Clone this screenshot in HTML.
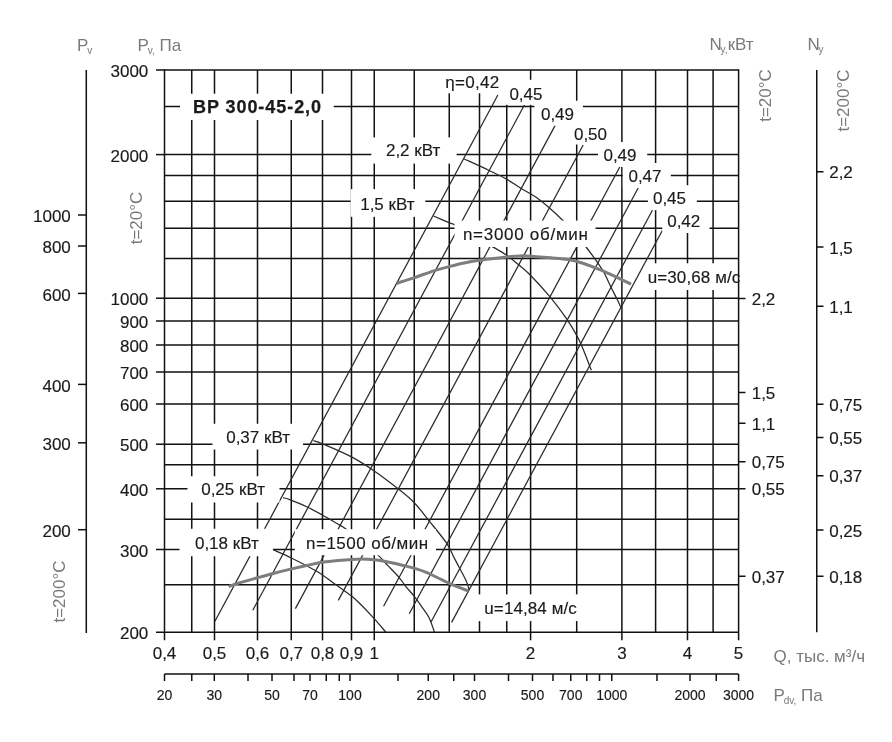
<!DOCTYPE html>
<html><head><meta charset="utf-8"><style>
html,body{margin:0;padding:0;background:#fff;}
svg{display:block;font-family:"Liberation Sans",sans-serif;will-change:transform;}
</style></head><body>
<svg width="892" height="742" viewBox="0 0 892 742">
<rect width="892" height="742" fill="#fff"/>
<line x1="191.75" y1="70.00" x2="191.75" y2="632.30" stroke="#111" stroke-width="1.5"/>
<line x1="214.50" y1="70.00" x2="214.50" y2="632.30" stroke="#111" stroke-width="1.5"/>
<line x1="257.50" y1="70.00" x2="257.50" y2="632.30" stroke="#111" stroke-width="1.5"/>
<line x1="291.25" y1="70.00" x2="291.25" y2="632.30" stroke="#111" stroke-width="1.5"/>
<line x1="322.50" y1="70.00" x2="322.50" y2="632.30" stroke="#111" stroke-width="1.5"/>
<line x1="351.50" y1="70.00" x2="351.50" y2="632.30" stroke="#111" stroke-width="1.5"/>
<line x1="374.25" y1="70.00" x2="374.25" y2="632.30" stroke="#111" stroke-width="1.5"/>
<line x1="414.25" y1="70.00" x2="414.25" y2="632.30" stroke="#111" stroke-width="1.5"/>
<line x1="449.25" y1="70.00" x2="449.25" y2="632.30" stroke="#111" stroke-width="1.5"/>
<line x1="479.50" y1="70.00" x2="479.50" y2="632.30" stroke="#111" stroke-width="1.5"/>
<line x1="506.75" y1="70.00" x2="506.75" y2="632.30" stroke="#111" stroke-width="1.5"/>
<line x1="530.60" y1="70.00" x2="530.60" y2="632.30" stroke="#111" stroke-width="1.5"/>
<line x1="576.70" y1="70.00" x2="576.70" y2="632.30" stroke="#111" stroke-width="1.5"/>
<line x1="621.90" y1="70.00" x2="621.90" y2="632.30" stroke="#111" stroke-width="1.5"/>
<line x1="655.60" y1="70.00" x2="655.60" y2="632.30" stroke="#111" stroke-width="1.5"/>
<line x1="687.50" y1="70.00" x2="687.50" y2="632.30" stroke="#111" stroke-width="1.5"/>
<line x1="713.10" y1="70.00" x2="713.10" y2="632.30" stroke="#111" stroke-width="1.5"/>
<line x1="164.50" y1="106.50" x2="738.60" y2="106.50" stroke="#111" stroke-width="1.5"/>
<line x1="164.50" y1="154.60" x2="738.60" y2="154.60" stroke="#111" stroke-width="1.5"/>
<line x1="164.50" y1="175.50" x2="738.60" y2="175.50" stroke="#111" stroke-width="1.5"/>
<line x1="164.50" y1="201.25" x2="738.60" y2="201.25" stroke="#111" stroke-width="1.5"/>
<line x1="164.50" y1="228.30" x2="738.60" y2="228.30" stroke="#111" stroke-width="1.5"/>
<line x1="164.50" y1="258.50" x2="738.60" y2="258.50" stroke="#111" stroke-width="1.5"/>
<line x1="164.50" y1="298.20" x2="738.60" y2="298.20" stroke="#111" stroke-width="1.5"/>
<line x1="164.50" y1="321.00" x2="738.60" y2="321.00" stroke="#111" stroke-width="1.5"/>
<line x1="164.50" y1="345.00" x2="738.60" y2="345.00" stroke="#111" stroke-width="1.5"/>
<line x1="164.50" y1="372.00" x2="738.60" y2="372.00" stroke="#111" stroke-width="1.5"/>
<line x1="164.50" y1="404.00" x2="738.60" y2="404.00" stroke="#111" stroke-width="1.5"/>
<line x1="164.50" y1="444.20" x2="738.60" y2="444.20" stroke="#111" stroke-width="1.5"/>
<line x1="164.50" y1="464.80" x2="738.60" y2="464.80" stroke="#111" stroke-width="1.5"/>
<line x1="164.50" y1="488.80" x2="738.60" y2="488.80" stroke="#111" stroke-width="1.5"/>
<line x1="164.50" y1="519.20" x2="738.60" y2="519.20" stroke="#111" stroke-width="1.5"/>
<line x1="164.50" y1="549.50" x2="738.60" y2="549.50" stroke="#111" stroke-width="1.5"/>
<line x1="164.50" y1="584.70" x2="738.60" y2="584.70" stroke="#111" stroke-width="1.5"/>
<line x1="214.52" y1="622.00" x2="497.85" y2="95.00" stroke="#2a2a2a" stroke-width="1.25"/>
<line x1="252.80" y1="610.20" x2="524.41" y2="105.00" stroke="#2a2a2a" stroke-width="1.25"/>
<line x1="295.38" y1="608.60" x2="555.16" y2="125.40" stroke="#2a2a2a" stroke-width="1.25"/>
<line x1="338.33" y1="600.40" x2="583.17" y2="145.00" stroke="#2a2a2a" stroke-width="1.25"/>
<line x1="383.60" y1="606.30" x2="619.78" y2="167.00" stroke="#2a2a2a" stroke-width="1.25"/>
<line x1="409.27" y1="613.75" x2="638.17" y2="188.00" stroke="#2a2a2a" stroke-width="1.25"/>
<line x1="431.02" y1="622.00" x2="652.53" y2="210.00" stroke="#2a2a2a" stroke-width="1.25"/>
<line x1="451.61" y1="622.40" x2="662.58" y2="230.00" stroke="#2a2a2a" stroke-width="1.25"/>
<path d="M463.70,158.70 C467.85,160.62 481.53,166.83 488.60,170.20 C495.67,173.57 500.72,175.88 506.10,178.90 C511.48,181.92 515.97,185.27 520.90,188.30 C525.83,191.33 530.98,193.85 535.70,197.10 C540.42,200.35 544.72,203.95 549.20,207.80 C553.68,211.65 558.30,216.00 562.60,220.20 C566.90,224.40 571.08,228.53 575.00,233.00 C578.92,237.47 582.53,242.35 586.10,247.00 C589.67,251.65 593.48,256.77 596.40,260.90 C599.32,265.03 601.18,267.45 603.60,271.80 C606.02,276.15 608.67,282.45 610.90,287.00 C613.13,291.55 615.28,295.57 617.00,299.10 C618.72,302.63 620.50,306.68 621.20,308.20" fill="none" stroke="#2a2a2a" stroke-width="1.25"/>
<path d="M433.50,216.00 C436.18,217.15 446.10,221.45 449.60,222.90 C453.10,224.35 450.43,222.60 454.50,224.70 C458.57,226.80 467.55,231.77 474.00,235.50 C480.45,239.23 487.93,243.93 493.20,247.10 C498.47,250.27 501.40,251.58 505.60,254.50 C509.80,257.42 514.33,261.23 518.40,264.60 C522.47,267.97 524.77,269.37 530.00,274.70 C535.23,280.03 543.67,289.18 549.80,296.60 C555.93,304.02 561.77,311.65 566.80,319.20 C571.83,326.75 575.92,333.40 580.00,341.90 C584.08,350.40 589.42,365.48 591.30,370.20" fill="none" stroke="#2a2a2a" stroke-width="1.25"/>
<path d="M313.50,440.70 C315.17,441.28 317.17,441.50 323.50,444.20 C329.83,446.90 343.04,452.45 351.50,456.90 C359.96,461.35 366.48,465.58 374.25,470.90 C382.02,476.22 391.43,483.50 398.10,488.80 C404.77,494.10 409.05,497.32 414.25,502.70 C419.45,508.08 423.91,514.35 429.30,521.10 C434.69,527.85 442.28,536.73 446.60,543.20 C450.92,549.67 451.97,553.70 455.20,559.90 C458.43,566.10 463.67,575.37 466.00,580.40 C468.33,585.43 468.67,588.48 469.20,590.10" fill="none" stroke="#2a2a2a" stroke-width="1.25"/>
<path d="M283.20,497.70 C284.38,498.07 286.30,498.35 290.30,499.90 C294.30,501.45 301.87,504.48 307.20,507.00 C312.53,509.52 316.95,512.02 322.30,515.00 C327.65,517.98 335.43,522.62 339.30,524.90 C343.17,527.18 341.72,525.93 345.50,528.70 C349.28,531.47 356.45,536.97 362.00,541.50 C367.55,546.03 374.48,551.88 378.80,555.90 C383.12,559.92 384.57,562.07 387.90,565.60 C391.23,569.13 395.77,573.57 398.80,577.10 C401.83,580.63 403.58,583.67 406.10,586.80 C408.62,589.93 411.28,592.57 413.90,595.90 C416.52,599.23 419.27,603.17 421.80,606.80 C424.33,610.43 426.98,613.45 429.10,617.70 C431.22,621.95 433.60,629.87 434.50,632.30" fill="none" stroke="#2a2a2a" stroke-width="1.25"/>
<path d="M273.60,549.90 C276.65,551.28 284.73,554.63 291.90,558.20 C299.07,561.77 309.32,566.93 316.60,571.30 C323.88,575.67 329.77,580.27 335.60,584.40 C341.43,588.53 347.53,592.87 351.60,596.10 C355.67,599.33 356.38,600.20 360.00,603.80 C363.62,607.40 368.97,612.95 373.30,617.70 C377.63,622.45 383.88,629.87 386.00,632.30" fill="none" stroke="#2a2a2a" stroke-width="1.25"/>
<path d="M396.60,283.20 C399.50,282.30 407.82,279.85 414.00,277.80 C420.18,275.75 427.87,272.77 433.70,270.90 C439.53,269.03 444.13,267.88 449.00,266.60 C453.87,265.32 457.87,264.25 462.90,263.20 C467.93,262.15 471.92,261.33 479.20,260.30 C486.48,259.27 499.80,257.73 506.60,257.00 C513.40,256.27 516.03,256.03 520.00,255.90 C523.97,255.77 525.27,255.88 530.40,256.20 C535.53,256.52 544.48,257.23 550.80,257.80 C557.12,258.37 562.95,258.70 568.30,259.60 C573.65,260.50 577.55,261.50 582.90,263.20 C588.25,264.90 595.07,267.62 600.40,269.80 C605.73,271.98 609.80,273.92 614.90,276.30 C620.00,278.68 628.32,282.80 631.00,284.10" fill="none" stroke="#7d7d7d" stroke-width="3"/>
<path d="M228.60,586.60 C229.93,586.12 231.87,585.15 236.60,583.70 C241.33,582.25 250.93,579.60 257.00,577.90 C263.07,576.20 267.42,574.97 273.00,573.50 C278.58,572.03 284.92,570.43 290.50,569.10 C296.08,567.77 300.92,566.67 306.50,565.50 C312.08,564.33 316.42,563.12 324.00,562.10 C331.58,561.08 344.00,559.85 352.00,559.40 C360.00,558.95 366.63,559.10 372.00,559.40 C377.37,559.70 379.13,560.23 384.20,561.20 C389.27,562.17 395.60,563.43 402.40,565.20 C409.20,566.97 417.10,568.73 425.00,571.80 C432.90,574.87 442.55,580.40 449.80,583.60 C457.05,586.80 465.38,589.77 468.50,591.00" fill="none" stroke="#7d7d7d" stroke-width="3"/>
<rect x="180.00" y="93.75" width="153.75" height="26.25" fill="#fff"/>
<rect x="438.00" y="60.00" width="71.50" height="33.30" fill="#fff"/>
<rect x="504.00" y="79.80" width="47.50" height="25.00" fill="#fff"/>
<rect x="534.40" y="100.70" width="48.50" height="25.00" fill="#fff"/>
<rect x="568.80" y="119.50" width="48.70" height="25.00" fill="#fff"/>
<rect x="598.00" y="142.00" width="49.20" height="25.00" fill="#fff"/>
<rect x="622.80" y="163.00" width="48.00" height="25.00" fill="#fff"/>
<rect x="647.90" y="185.20" width="48.90" height="24.90" fill="#fff"/>
<rect x="662.30" y="208.00" width="47.20" height="25.00" fill="#fff"/>
<rect x="371.30" y="137.40" width="85.30" height="26.20" fill="#fff"/>
<rect x="350.70" y="189.10" width="74.60" height="27.70" fill="#fff"/>
<rect x="454.50" y="220.60" width="141.00" height="26.40" fill="#fff"/>
<rect x="645.50" y="263.30" width="92.50" height="26.70" fill="#fff"/>
<rect x="212.50" y="423.75" width="90.50" height="25.75" fill="#fff"/>
<rect x="187.50" y="476.25" width="92.00" height="26.25" fill="#fff"/>
<rect x="179.50" y="528.75" width="93.40" height="27.50" fill="#fff"/>
<rect x="294.80" y="529.20" width="141.20" height="26.10" fill="#fff"/>
<rect x="470.00" y="594.40" width="122.00" height="26.70" fill="#fff"/>
<text x="192.95" y="113.44" font-size="18" text-anchor="start" fill="#1a1a1a" stroke="#1a1a1a" stroke-width="0.25" font-weight="bold" letter-spacing="0.95">BP 300-45-2,0</text>
<text x="445.20" y="88.09" font-size="17" text-anchor="start" fill="#1a1a1a" stroke="#1a1a1a" stroke-width="0.15" font-weight="normal" letter-spacing="0.3">η=0,42</text>
<text x="509.40" y="99.59" font-size="17" text-anchor="start" fill="#1a1a1a" stroke="#1a1a1a" stroke-width="0.15" font-weight="normal" >0,45</text>
<text x="540.95" y="119.84" font-size="17" text-anchor="start" fill="#1a1a1a" stroke="#1a1a1a" stroke-width="0.15" font-weight="normal" >0,49</text>
<text x="573.95" y="139.84" font-size="17" text-anchor="start" fill="#1a1a1a" stroke="#1a1a1a" stroke-width="0.15" font-weight="normal" >0,50</text>
<text x="603.45" y="161.09" font-size="17" text-anchor="start" fill="#1a1a1a" stroke="#1a1a1a" stroke-width="0.15" font-weight="normal" >0,49</text>
<text x="628.45" y="182.34" font-size="17" text-anchor="start" fill="#1a1a1a" stroke="#1a1a1a" stroke-width="0.15" font-weight="normal" >0,47</text>
<text x="652.95" y="204.34" font-size="17" text-anchor="start" fill="#1a1a1a" stroke="#1a1a1a" stroke-width="0.15" font-weight="normal" >0,45</text>
<text x="667.20" y="227.34" font-size="17" text-anchor="start" fill="#1a1a1a" stroke="#1a1a1a" stroke-width="0.15" font-weight="normal" >0,42</text>
<text x="385.95" y="156.09" font-size="17" text-anchor="start" fill="#1a1a1a" stroke="#1a1a1a" stroke-width="0.15" font-weight="normal" >2,2 кВт</text>
<text x="360.20" y="209.84" font-size="17" text-anchor="start" fill="#1a1a1a" stroke="#1a1a1a" stroke-width="0.15" font-weight="normal" >1,5 кВт</text>
<text x="462.95" y="239.84" font-size="17" text-anchor="start" fill="#1a1a1a" stroke="#1a1a1a" stroke-width="0.15" font-weight="normal" letter-spacing="0.71">n=3000 об/мин</text>
<text x="647.70" y="283.09" font-size="17" text-anchor="start" fill="#1a1a1a" stroke="#1a1a1a" stroke-width="0.15" font-weight="normal" letter-spacing="0.1">u=30,68 м/с</text>
<text x="226.20" y="442.69" font-size="17" text-anchor="start" fill="#1a1a1a" stroke="#1a1a1a" stroke-width="0.15" font-weight="normal" >0,37 кВт</text>
<text x="201.20" y="495.09" font-size="17" text-anchor="start" fill="#1a1a1a" stroke="#1a1a1a" stroke-width="0.15" font-weight="normal" >0,25 кВт</text>
<text x="194.95" y="548.59" font-size="17" text-anchor="start" fill="#1a1a1a" stroke="#1a1a1a" stroke-width="0.15" font-weight="normal" >0,18 кВт</text>
<text x="306.10" y="549.39" font-size="17" text-anchor="start" fill="#1a1a1a" stroke="#1a1a1a" stroke-width="0.15" font-weight="normal" letter-spacing="0.46">n=1500 об/мин</text>
<text x="484.30" y="614.09" font-size="17" text-anchor="start" fill="#1a1a1a" stroke="#1a1a1a" stroke-width="0.15" font-weight="normal" letter-spacing="0.1">u=14,84 м/с</text>
<line x1="156.00" y1="70.00" x2="738.60" y2="70.00" stroke="#111" stroke-width="1.5"/>
<line x1="156.00" y1="632.30" x2="738.60" y2="632.30" stroke="#111" stroke-width="1.5"/>
<line x1="164.50" y1="69.25" x2="164.50" y2="640.30" stroke="#111" stroke-width="1.5"/>
<line x1="738.60" y1="69.25" x2="738.60" y2="640.30" stroke="#111" stroke-width="1.5"/>
<line x1="156.00" y1="154.60" x2="164.50" y2="154.60" stroke="#111" stroke-width="1.5"/>
<line x1="156.00" y1="298.20" x2="164.50" y2="298.20" stroke="#111" stroke-width="1.5"/>
<line x1="156.00" y1="321.00" x2="164.50" y2="321.00" stroke="#111" stroke-width="1.5"/>
<line x1="156.00" y1="345.00" x2="164.50" y2="345.00" stroke="#111" stroke-width="1.5"/>
<line x1="156.00" y1="372.00" x2="164.50" y2="372.00" stroke="#111" stroke-width="1.5"/>
<line x1="156.00" y1="404.00" x2="164.50" y2="404.00" stroke="#111" stroke-width="1.5"/>
<line x1="156.00" y1="444.20" x2="164.50" y2="444.20" stroke="#111" stroke-width="1.5"/>
<line x1="156.00" y1="488.80" x2="164.50" y2="488.80" stroke="#111" stroke-width="1.5"/>
<line x1="156.00" y1="549.50" x2="164.50" y2="549.50" stroke="#111" stroke-width="1.5"/>
<text x="148.30" y="77.10" font-size="17" text-anchor="end" fill="#1a1a1a" stroke="#1a1a1a" stroke-width="0.15" font-weight="normal" >3000</text>
<text x="148.30" y="161.70" font-size="17" text-anchor="end" fill="#1a1a1a" stroke="#1a1a1a" stroke-width="0.15" font-weight="normal" >2000</text>
<text x="148.30" y="305.30" font-size="17" text-anchor="end" fill="#1a1a1a" stroke="#1a1a1a" stroke-width="0.15" font-weight="normal" >1000</text>
<text x="148.30" y="328.10" font-size="17" text-anchor="end" fill="#1a1a1a" stroke="#1a1a1a" stroke-width="0.15" font-weight="normal" >900</text>
<text x="148.30" y="352.10" font-size="17" text-anchor="end" fill="#1a1a1a" stroke="#1a1a1a" stroke-width="0.15" font-weight="normal" >800</text>
<text x="148.30" y="379.10" font-size="17" text-anchor="end" fill="#1a1a1a" stroke="#1a1a1a" stroke-width="0.15" font-weight="normal" >700</text>
<text x="148.30" y="411.10" font-size="17" text-anchor="end" fill="#1a1a1a" stroke="#1a1a1a" stroke-width="0.15" font-weight="normal" >600</text>
<text x="148.30" y="451.30" font-size="17" text-anchor="end" fill="#1a1a1a" stroke="#1a1a1a" stroke-width="0.15" font-weight="normal" >500</text>
<text x="148.30" y="495.90" font-size="17" text-anchor="end" fill="#1a1a1a" stroke="#1a1a1a" stroke-width="0.15" font-weight="normal" >400</text>
<text x="148.30" y="556.60" font-size="17" text-anchor="end" fill="#1a1a1a" stroke="#1a1a1a" stroke-width="0.15" font-weight="normal" >300</text>
<text x="148.30" y="639.40" font-size="17" text-anchor="end" fill="#1a1a1a" stroke="#1a1a1a" stroke-width="0.15" font-weight="normal" >200</text>
<text x="164.50" y="659.10" font-size="17" text-anchor="middle" fill="#1a1a1a" stroke="#1a1a1a" stroke-width="0.15" font-weight="normal" >0,4</text>
<line x1="214.50" y1="632.30" x2="214.50" y2="640.30" stroke="#111" stroke-width="1.5"/>
<text x="214.50" y="659.10" font-size="17" text-anchor="middle" fill="#1a1a1a" stroke="#1a1a1a" stroke-width="0.15" font-weight="normal" >0,5</text>
<line x1="257.50" y1="632.30" x2="257.50" y2="640.30" stroke="#111" stroke-width="1.5"/>
<text x="257.50" y="659.10" font-size="17" text-anchor="middle" fill="#1a1a1a" stroke="#1a1a1a" stroke-width="0.15" font-weight="normal" >0,6</text>
<line x1="291.25" y1="632.30" x2="291.25" y2="640.30" stroke="#111" stroke-width="1.5"/>
<text x="291.25" y="659.10" font-size="17" text-anchor="middle" fill="#1a1a1a" stroke="#1a1a1a" stroke-width="0.15" font-weight="normal" >0,7</text>
<line x1="322.50" y1="632.30" x2="322.50" y2="640.30" stroke="#111" stroke-width="1.5"/>
<text x="322.50" y="659.10" font-size="17" text-anchor="middle" fill="#1a1a1a" stroke="#1a1a1a" stroke-width="0.15" font-weight="normal" >0,8</text>
<line x1="351.50" y1="632.30" x2="351.50" y2="640.30" stroke="#111" stroke-width="1.5"/>
<text x="351.50" y="659.10" font-size="17" text-anchor="middle" fill="#1a1a1a" stroke="#1a1a1a" stroke-width="0.15" font-weight="normal" >0,9</text>
<line x1="374.25" y1="632.30" x2="374.25" y2="640.30" stroke="#111" stroke-width="1.5"/>
<text x="374.25" y="659.10" font-size="17" text-anchor="middle" fill="#1a1a1a" stroke="#1a1a1a" stroke-width="0.15" font-weight="normal" >1</text>
<line x1="530.60" y1="632.30" x2="530.60" y2="640.30" stroke="#111" stroke-width="1.5"/>
<text x="530.60" y="659.10" font-size="17" text-anchor="middle" fill="#1a1a1a" stroke="#1a1a1a" stroke-width="0.15" font-weight="normal" >2</text>
<line x1="621.90" y1="632.30" x2="621.90" y2="640.30" stroke="#111" stroke-width="1.5"/>
<text x="621.90" y="659.10" font-size="17" text-anchor="middle" fill="#1a1a1a" stroke="#1a1a1a" stroke-width="0.15" font-weight="normal" >3</text>
<line x1="687.50" y1="632.30" x2="687.50" y2="640.30" stroke="#111" stroke-width="1.5"/>
<text x="687.50" y="659.10" font-size="17" text-anchor="middle" fill="#1a1a1a" stroke="#1a1a1a" stroke-width="0.15" font-weight="normal" >4</text>
<text x="738.60" y="659.10" font-size="17" text-anchor="middle" fill="#1a1a1a" stroke="#1a1a1a" stroke-width="0.15" font-weight="normal" >5</text>
<line x1="164.50" y1="674.00" x2="738.60" y2="674.00" stroke="#111" stroke-width="1.5"/>
<line x1="164.50" y1="674.00" x2="164.50" y2="681.00" stroke="#111" stroke-width="1.5"/>
<line x1="191.75" y1="674.00" x2="191.75" y2="681.00" stroke="#111" stroke-width="1.5"/>
<line x1="214.30" y1="674.00" x2="214.30" y2="681.00" stroke="#111" stroke-width="1.5"/>
<line x1="248.00" y1="674.00" x2="248.00" y2="681.00" stroke="#111" stroke-width="1.5"/>
<line x1="272.00" y1="674.00" x2="272.00" y2="681.00" stroke="#111" stroke-width="1.5"/>
<line x1="294.00" y1="674.00" x2="294.00" y2="681.00" stroke="#111" stroke-width="1.5"/>
<line x1="310.00" y1="674.00" x2="310.00" y2="681.00" stroke="#111" stroke-width="1.5"/>
<line x1="326.25" y1="674.00" x2="326.25" y2="681.00" stroke="#111" stroke-width="1.5"/>
<line x1="339.25" y1="674.00" x2="339.25" y2="681.00" stroke="#111" stroke-width="1.5"/>
<line x1="350.00" y1="674.00" x2="350.00" y2="681.00" stroke="#111" stroke-width="1.5"/>
<line x1="398.00" y1="674.00" x2="398.00" y2="681.00" stroke="#111" stroke-width="1.5"/>
<line x1="428.25" y1="674.00" x2="428.25" y2="681.00" stroke="#111" stroke-width="1.5"/>
<line x1="453.75" y1="674.00" x2="453.75" y2="681.00" stroke="#111" stroke-width="1.5"/>
<line x1="474.50" y1="674.00" x2="474.50" y2="681.00" stroke="#111" stroke-width="1.5"/>
<line x1="508.50" y1="674.00" x2="508.50" y2="681.00" stroke="#111" stroke-width="1.5"/>
<line x1="532.50" y1="674.00" x2="532.50" y2="681.00" stroke="#111" stroke-width="1.5"/>
<line x1="553.00" y1="674.00" x2="553.00" y2="681.00" stroke="#111" stroke-width="1.5"/>
<line x1="570.75" y1="674.00" x2="570.75" y2="681.00" stroke="#111" stroke-width="1.5"/>
<line x1="586.75" y1="674.00" x2="586.75" y2="681.00" stroke="#111" stroke-width="1.5"/>
<line x1="599.50" y1="674.00" x2="599.50" y2="681.00" stroke="#111" stroke-width="1.5"/>
<line x1="611.75" y1="674.00" x2="611.75" y2="681.00" stroke="#111" stroke-width="1.5"/>
<line x1="657.00" y1="674.00" x2="657.00" y2="681.00" stroke="#111" stroke-width="1.5"/>
<line x1="690.00" y1="674.00" x2="690.00" y2="681.00" stroke="#111" stroke-width="1.5"/>
<line x1="716.25" y1="674.00" x2="716.25" y2="681.00" stroke="#111" stroke-width="1.5"/>
<line x1="738.60" y1="674.00" x2="738.60" y2="681.00" stroke="#111" stroke-width="1.5"/>
<text x="164.50" y="699.80" font-size="14" text-anchor="middle" fill="#1a1a1a" stroke="#1a1a1a" stroke-width="0.15" font-weight="normal" >20</text>
<text x="214.30" y="699.80" font-size="14" text-anchor="middle" fill="#1a1a1a" stroke="#1a1a1a" stroke-width="0.15" font-weight="normal" >30</text>
<text x="272.00" y="699.80" font-size="14" text-anchor="middle" fill="#1a1a1a" stroke="#1a1a1a" stroke-width="0.15" font-weight="normal" >50</text>
<text x="310.00" y="699.80" font-size="14" text-anchor="middle" fill="#1a1a1a" stroke="#1a1a1a" stroke-width="0.15" font-weight="normal" >70</text>
<text x="350.00" y="699.80" font-size="14" text-anchor="middle" fill="#1a1a1a" stroke="#1a1a1a" stroke-width="0.15" font-weight="normal" >100</text>
<text x="428.25" y="699.80" font-size="14" text-anchor="middle" fill="#1a1a1a" stroke="#1a1a1a" stroke-width="0.15" font-weight="normal" >200</text>
<text x="474.50" y="699.80" font-size="14" text-anchor="middle" fill="#1a1a1a" stroke="#1a1a1a" stroke-width="0.15" font-weight="normal" >300</text>
<text x="532.50" y="699.80" font-size="14" text-anchor="middle" fill="#1a1a1a" stroke="#1a1a1a" stroke-width="0.15" font-weight="normal" >500</text>
<text x="570.75" y="699.80" font-size="14" text-anchor="middle" fill="#1a1a1a" stroke="#1a1a1a" stroke-width="0.15" font-weight="normal" >700</text>
<text x="611.75" y="699.80" font-size="14" text-anchor="middle" fill="#1a1a1a" stroke="#1a1a1a" stroke-width="0.15" font-weight="normal" >1000</text>
<text x="690.00" y="699.80" font-size="14" text-anchor="middle" fill="#1a1a1a" stroke="#1a1a1a" stroke-width="0.15" font-weight="normal" >2000</text>
<text x="738.60" y="699.80" font-size="14" text-anchor="middle" fill="#1a1a1a" stroke="#1a1a1a" stroke-width="0.15" font-weight="normal" >3000</text>
<line x1="738.60" y1="298.50" x2="745.50" y2="298.50" stroke="#111" stroke-width="1.5"/>
<text x="751.70" y="304.80" font-size="17" text-anchor="start" fill="#1a1a1a" stroke="#1a1a1a" stroke-width="0.15" font-weight="normal" >2,2</text>
<line x1="738.60" y1="392.50" x2="745.50" y2="392.50" stroke="#111" stroke-width="1.5"/>
<text x="751.70" y="398.80" font-size="17" text-anchor="start" fill="#1a1a1a" stroke="#1a1a1a" stroke-width="0.15" font-weight="normal" >1,5</text>
<line x1="738.60" y1="423.25" x2="745.50" y2="423.25" stroke="#111" stroke-width="1.5"/>
<text x="751.70" y="429.55" font-size="17" text-anchor="start" fill="#1a1a1a" stroke="#1a1a1a" stroke-width="0.15" font-weight="normal" >1,1</text>
<line x1="738.60" y1="461.75" x2="745.50" y2="461.75" stroke="#111" stroke-width="1.5"/>
<text x="751.70" y="468.05" font-size="17" text-anchor="start" fill="#1a1a1a" stroke="#1a1a1a" stroke-width="0.15" font-weight="normal" >0,75</text>
<line x1="738.60" y1="488.75" x2="745.50" y2="488.75" stroke="#111" stroke-width="1.5"/>
<text x="751.70" y="495.05" font-size="17" text-anchor="start" fill="#1a1a1a" stroke="#1a1a1a" stroke-width="0.15" font-weight="normal" >0,55</text>
<line x1="738.60" y1="576.25" x2="745.50" y2="576.25" stroke="#111" stroke-width="1.5"/>
<text x="751.70" y="582.55" font-size="17" text-anchor="start" fill="#1a1a1a" stroke="#1a1a1a" stroke-width="0.15" font-weight="normal" >0,37</text>
<line x1="816.75" y1="70.00" x2="816.75" y2="632.30" stroke="#111" stroke-width="1.5"/>
<line x1="816.75" y1="171.75" x2="823.50" y2="171.75" stroke="#111" stroke-width="1.5"/>
<text x="829.20" y="178.25" font-size="17" text-anchor="start" fill="#1a1a1a" stroke="#1a1a1a" stroke-width="0.15" font-weight="normal" >2,2</text>
<line x1="816.75" y1="247.00" x2="823.50" y2="247.00" stroke="#111" stroke-width="1.5"/>
<text x="829.20" y="253.50" font-size="17" text-anchor="start" fill="#1a1a1a" stroke="#1a1a1a" stroke-width="0.15" font-weight="normal" >1,5</text>
<line x1="816.75" y1="306.25" x2="823.50" y2="306.25" stroke="#111" stroke-width="1.5"/>
<text x="829.20" y="312.75" font-size="17" text-anchor="start" fill="#1a1a1a" stroke="#1a1a1a" stroke-width="0.15" font-weight="normal" >1,1</text>
<line x1="816.75" y1="404.25" x2="823.50" y2="404.25" stroke="#111" stroke-width="1.5"/>
<text x="829.20" y="410.75" font-size="17" text-anchor="start" fill="#1a1a1a" stroke="#1a1a1a" stroke-width="0.15" font-weight="normal" >0,75</text>
<line x1="816.75" y1="437.50" x2="823.50" y2="437.50" stroke="#111" stroke-width="1.5"/>
<text x="829.20" y="444.00" font-size="17" text-anchor="start" fill="#1a1a1a" stroke="#1a1a1a" stroke-width="0.15" font-weight="normal" >0,55</text>
<line x1="816.75" y1="475.75" x2="823.50" y2="475.75" stroke="#111" stroke-width="1.5"/>
<text x="829.20" y="482.25" font-size="17" text-anchor="start" fill="#1a1a1a" stroke="#1a1a1a" stroke-width="0.15" font-weight="normal" >0,37</text>
<line x1="816.75" y1="530.00" x2="823.50" y2="530.00" stroke="#111" stroke-width="1.5"/>
<text x="829.20" y="536.50" font-size="17" text-anchor="start" fill="#1a1a1a" stroke="#1a1a1a" stroke-width="0.15" font-weight="normal" >0,25</text>
<line x1="816.75" y1="576.25" x2="823.50" y2="576.25" stroke="#111" stroke-width="1.5"/>
<text x="829.20" y="582.75" font-size="17" text-anchor="start" fill="#1a1a1a" stroke="#1a1a1a" stroke-width="0.15" font-weight="normal" >0,18</text>
<line x1="86.30" y1="70.00" x2="86.30" y2="633.10" stroke="#111" stroke-width="1.5"/>
<line x1="78.00" y1="215.00" x2="86.30" y2="215.00" stroke="#111" stroke-width="1.5"/>
<text x="70.80" y="222.10" font-size="17" text-anchor="end" fill="#1a1a1a" stroke="#1a1a1a" stroke-width="0.15" font-weight="normal" >1000</text>
<line x1="78.00" y1="246.00" x2="86.30" y2="246.00" stroke="#111" stroke-width="1.5"/>
<text x="70.80" y="253.10" font-size="17" text-anchor="end" fill="#1a1a1a" stroke="#1a1a1a" stroke-width="0.15" font-weight="normal" >800</text>
<line x1="78.00" y1="293.40" x2="86.30" y2="293.40" stroke="#111" stroke-width="1.5"/>
<text x="70.80" y="300.50" font-size="17" text-anchor="end" fill="#1a1a1a" stroke="#1a1a1a" stroke-width="0.15" font-weight="normal" >600</text>
<line x1="78.00" y1="384.40" x2="86.30" y2="384.40" stroke="#111" stroke-width="1.5"/>
<text x="70.80" y="391.50" font-size="17" text-anchor="end" fill="#1a1a1a" stroke="#1a1a1a" stroke-width="0.15" font-weight="normal" >400</text>
<line x1="78.00" y1="442.80" x2="86.30" y2="442.80" stroke="#111" stroke-width="1.5"/>
<text x="70.80" y="449.90" font-size="17" text-anchor="end" fill="#1a1a1a" stroke="#1a1a1a" stroke-width="0.15" font-weight="normal" >300</text>
<line x1="78.00" y1="529.70" x2="86.30" y2="529.70" stroke="#111" stroke-width="1.5"/>
<text x="70.80" y="536.80" font-size="17" text-anchor="end" fill="#1a1a1a" stroke="#1a1a1a" stroke-width="0.15" font-weight="normal" >200</text>
<text x="77" y="51" font-size="17" fill="#7a7a7a">P<tspan font-size="10" dx="-1.2" dy="3">v</tspan></text>
<text x="137.5" y="51" font-size="17" fill="#7a7a7a">P<tspan font-size="10" dx="-1.2" dy="3">v,</tspan><tspan dy="-3"> Па</tspan></text>
<text x="709.5" y="50" font-size="17" fill="#7a7a7a">N<tspan font-size="10" dx="-1.2" dy="3">y,</tspan><tspan dy="-3">кВт</tspan></text>
<text x="807.5" y="50" font-size="17" fill="#7a7a7a">N<tspan font-size="10" dx="-1.2" dy="3">y</tspan></text>
<text x="773.5" y="661.5" font-size="17" fill="#7a7a7a">Q, тыс. м³/ч</text>
<text x="773.5" y="700.5" font-size="17" fill="#7a7a7a">P<tspan font-size="10" dx="-1.2" dy="3">dv,</tspan><tspan dy="-3"> Па</tspan></text>
<text x="0" y="0" font-size="17" fill="#7a7a7a" text-anchor="middle" transform="translate(142.10,218.00) rotate(-90)">t=20°C</text>
<text x="0" y="0" font-size="17" fill="#7a7a7a" text-anchor="middle" transform="translate(65.10,591.50) rotate(-90)">t=200°C</text>
<text x="0" y="0" font-size="17" fill="#7a7a7a" text-anchor="middle" transform="translate(771.10,95.50) rotate(-90)">t=20°C</text>
<text x="0" y="0" font-size="17" fill="#7a7a7a" text-anchor="middle" transform="translate(849.10,100.50) rotate(-90)">t=200°C</text>
</svg></body></html>
